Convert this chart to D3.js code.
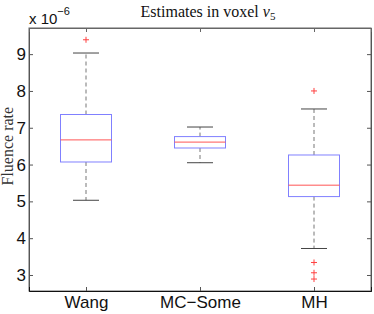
<!DOCTYPE html>
<html>
<head>
<meta charset="utf-8">
<script src="https://cdn.jsdelivr.net/npm/d3@7"></script>
<style>
  body { margin: 0; background: #fff; }
  svg { display: block; }
  .tick text { font-family: "Liberation Sans", Arial, sans-serif; }
</style>
</head>
<body>
<div id="chart"></div>
<script>
// data (values in units of 1e-6)
const methods = ["Wang", "MC\u2212Some", "MH"];
const lowerWhisker = [5.03, 6.05, 3.72];
const q1 = [6.07, 6.45, 5.13];
const median = [6.67, 6.61, 5.44];
const q3 = [7.36, 6.76, 6.26];
const upperWhisker = [9.03, 7.02, 7.51];
const outliers = [[9.39], [], [8.0, 3.34, 3.06, 2.89]];
const yTicks = [3, 4, 5, 6, 7, 8, 9];

const width = 374, height = 314;
const margin = { top: 28, right: 3, bottom: 23, left: 29 };

const svg = d3.select("#chart").append("svg")
  .attr("width", width).attr("height", height);

const x = d3.scaleLinear().domain([0.5, 3.5])
  .range([margin.left, width - margin.right]);
const y = d3.scaleLinear().domain([2.565, 9.71])
  .range([height - margin.bottom, margin.top]);

const boxHalf = 25.5, capHalf = 13;

// frame
svg.append("rect")
  .attr("x", margin.left).attr("y", margin.top)
  .attr("width", width - margin.left - margin.right)
  .attr("height", height - margin.top - margin.bottom)
  .attr("fill", "none").attr("stroke", "#666").attr("stroke-width", 1);

// axes
const yAxis = d3.axisLeft(y).tickValues(yTicks).tickSize(-4).tickPadding(3);
const gy = svg.append("g").attr("transform", `translate(${margin.left},0)`).call(yAxis);
gy.select(".domain").attr("stroke", "#555");
gy.selectAll(".tick line").attr("stroke", "#555");
gy.selectAll(".tick text").attr("font-size", 17).attr("fill", "#111");

const yAxisR = d3.axisRight(y).tickValues(yTicks).tickSize(-4).tickFormat("");
const gyr = svg.append("g").attr("transform", `translate(${width - margin.right},0)`).call(yAxisR);
gyr.selectAll("line, path").attr("stroke", "#555");

const xAxis = d3.axisBottom(x).tickValues([1, 2, 3]).tickSize(-4).tickPadding(5)
  .tickFormat((d) => methods[d - 1]);
const gx = svg.append("g").attr("transform", `translate(0,${height - margin.bottom})`).call(xAxis);
gx.select(".domain").attr("stroke", "#111");
gx.selectAll(".tick line").attr("stroke", "#555");
gx.selectAll(".tick text").attr("font-size", 17).attr("fill", "#111");

const xAxisT = d3.axisTop(x).tickValues([1, 2, 3]).tickSize(-4).tickFormat("");
const gxt = svg.append("g").attr("transform", `translate(0,${margin.top})`).call(xAxisT);
gxt.selectAll("line, path").attr("stroke", "#666");

// boxes
const idx = d3.range(methods.length);
const g = svg.append("g");

// whiskers
g.selectAll(".whisk-up").data(idx).join("line")
  .attr("x1", (i) => x(i + 1)).attr("x2", (i) => x(i + 1))
  .attr("y1", (i) => y(q3[i])).attr("y2", (i) => y(upperWhisker[i]))
  .attr("stroke", "#777").attr("stroke-dasharray", "4,3");
g.selectAll(".whisk-dn").data(idx).join("line")
  .attr("x1", (i) => x(i + 1)).attr("x2", (i) => x(i + 1))
  .attr("y1", (i) => y(q1[i])).attr("y2", (i) => y(lowerWhisker[i]))
  .attr("stroke", "#777").attr("stroke-dasharray", "4,3");

// caps
[upperWhisker, lowerWhisker].forEach((arr) => {
  g.append("g").selectAll("line").data(idx).join("line")
    .attr("x1", (i) => x(i + 1) - capHalf).attr("x2", (i) => x(i + 1) + capHalf)
    .attr("y1", (i) => y(arr[i])).attr("y2", (i) => y(arr[i]))
    .attr("stroke", "#444");
});

g.append("g").selectAll("rect").data(idx).join("rect")
  .attr("x", (i) => x(i + 1) - boxHalf)
  .attr("y", (i) => y(q3[i]))
  .attr("width", boxHalf * 2)
  .attr("height", (i) => y(q1[i]) - y(q3[i]))
  .attr("fill", "none").attr("stroke", "#8080ff");

g.append("g").selectAll("line").data(idx).join("line")
  .attr("x1", (i) => x(i + 1) - boxHalf).attr("x2", (i) => x(i + 1) + boxHalf)
  .attr("y1", (i) => y(median[i])).attr("y2", (i) => y(median[i]))
  .attr("stroke", "#ff5555");

// outliers
const outPts = outliers.flatMap((arr, i) => arr.map((v) => ({ i, v })));
g.append("g").selectAll("path").data(outPts).join("path")
  .attr("d", (d) => {
    const cx = x(d.i + 1), cy = y(d.v);
    return `M${cx - 3},${cy}H${cx + 3}M${cx},${cy - 3}V${cy + 3}`;
  })
  .attr("stroke", "#ff4040").attr("stroke-width", 1);

// title
const title = svg.append("text")
  .attr("x", 208).attr("y", 17)
  .attr("text-anchor", "middle")
  .attr("font-family", "'Liberation Serif', 'DejaVu Serif', serif")
  .attr("font-size", 16).attr("fill", "#111");
title.append("tspan").text("Estimates in voxel ");
title.append("tspan").attr("font-style", "italic").text("v");
title.append("tspan").attr("font-size", 11).attr("dy", 3).text("5");

// exponent label
const expo = svg.append("text")
  .attr("x", 29).attr("y", 24)
  .attr("font-family", "'Liberation Sans', Arial, sans-serif")
  .attr("font-size", 15).attr("fill", "#111");
expo.append("tspan").text("x 10");
expo.append("tspan").attr("font-size", 11).attr("dy", -9).text("\u22126");

// y label
svg.append("text")
  .attr("transform", `translate(13,${y(6.5)}) rotate(-90)`)
  .attr("text-anchor", "middle")
  .attr("font-family", "'Liberation Serif', 'DejaVu Serif', serif")
  .attr("font-size", 16).attr("fill", "#333")
  .text("Fluence rate");
</script>
</body>
</html>
